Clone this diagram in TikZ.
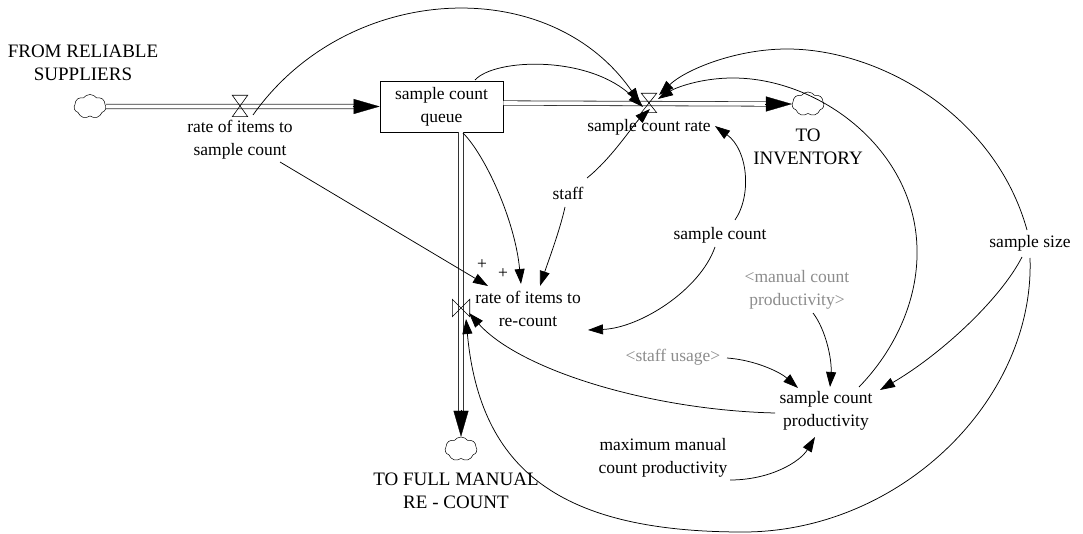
\documentclass[tikz,border=0pt]{standalone}
\usepackage{fontspec}
\setmainfont{Liberation Serif}
\usetikzlibrary{arrows.meta,calc,shapes.symbols}
\definecolor{ghost}{RGB}{140,140,140}
\begin{document}
\begin{tikzpicture}[x=1pt,y=-1pt,
  lbl/.style={align=center,inner sep=1pt,font=\fontsize{17.5}{23}\selectfont},
  caplbl/.style={align=center,inner sep=1pt,font=\fontsize{19}{23}\selectfont},
  shadowlbl/.style={lbl,text=ghost},
  stock/.style={draw,fill=white,line width=0.8pt,minimum width=123pt,minimum height=51pt,inner sep=0pt,align=center,font=\fontsize{17.5}{23}\selectfont},
  hvalve/.style={inner sep=0pt,minimum width=15pt,minimum height=19pt},
  vvalve/.style={inner sep=0pt,minimum width=17pt,minimum height=17pt},
  valveline/.style={line width=0.6pt},
  cloudy/.style={cloud,cloud puffs=7,cloud puff arc=110,aspect=1.3,draw,line width=0.5pt,inner sep=0pt,minimum width=32pt,minimum height=24pt},
  pipe/.style={double,double distance=3.6pt,line width=0.8pt,draw=black!80},
  pipetip/.style={-{Triangle[length=26pt,width=15pt]},line width=0.3pt},
  link/.style={-{Triangle[length=15pt,width=10pt]},line width=0.75pt}
]
\useasboundingbox (0,0) rectangle (1083,534);

% stock, clouds, valves
\node[stock] (queue) at (441.5,106.5) {sample count\\queue};
\node[cloudy] (cloud1) at (90,106.5) {};
\node[cloudy] (cloud2) at (808,104) {};
\node[cloudy] (cloud3) at (461,449) {};
\node[hvalve,minimum height=21pt] (v1) at (240,106) {};
\node[hvalve] (v2) at (649,103) {};
\node[vvalve] (v3) at (461,308) {};

% pipes
\draw[pipe] (cloud1.east) -- ($(queue.west)+(-25,0)$);
\draw[pipetip] ($(queue.west)+(-27,0)$) -- (queue.west);
\draw[pipe] (queue.east |- v2) -- ($(cloud2.west)+(-25,0)$);
\draw[pipetip] ($(cloud2.west)+(-27,0)$) -- (cloud2.west);
\draw[pipe] (v3 |- queue.south) -- ($(cloud3.north)+(0,-25)$);
\draw[pipetip] ($(cloud3.north)+(0,-27)$) -- (cloud3.north);

% valve symbols
\draw[valveline] (v1.north west) -- (v1.north east) -- (v1.south west) -- (v1.south east) -- cycle;
\draw[valveline] (v2.north west) -- (v2.north east) -- (v2.south west) -- (v2.south east) -- cycle;
\draw[valveline] (v3.north west) -- (v3.south west) -- (v3.north east) -- (v3.south east) -- cycle;

% labels
\node[caplbl] (src) at (83,63) {FROM RELIABLE\\SUPPLIERS};
\node[caplbl] (inv) at (808,147) {TO\\INVENTORY};
\node[caplbl] (full) at (456,491) {TO FULL MANUAL\\RE - COUNT};
\node[lbl] (r1) at (240,140) {rate of items to\\sample count};
\node[lbl] (scr) at (649,127) {sample count rate};
\node[lbl] (r2) at (528,309) {rate of items to\\re-count};
\node[lbl] (staff) at (568,193) {staff};
\node[lbl] (sc) at (720,235) {sample count};
\node[shadowlbl] (mcp) at (797,290) {<manual count\\productivity>};
\node[shadowlbl] (su) at (673,357) {<staff usage>};
\node[lbl] (scp) at (826,411) {sample count\\productivity};
\node[lbl] (ss) at (1030,243) {sample size};
\node[lbl] (mm) at (663,458) {maximum manual\\count productivity};
\node[lbl] (p1) at (482,265) {+};
\node[lbl] (p2) at (503,274) {+};

% links into sample count rate
\draw[link] ($(r1)+(13,-25)$) .. controls (347,-18) and (549,-28) .. ($(v2)+(-9,0)$);
\draw[link] ($(queue)+(33.5,-26.5)$) .. controls (495,58) and (590,55) .. ($(v2)+(-6,4)$);
\draw[link] ($(staff)+(19,-15)$) .. controls (612,158) and (633,125) .. ($(v2)+(1,6)$);
\draw[link] ($(sc)+(15,-15)$) .. controls (752,195) and (748,150) .. ($(scr)+(66,-1)$);
\draw[link] ($(scp)+(33,-24)$) .. controls (895,350) and (918,300) .. (917,250)
   .. controls (916,150) and (820,78) .. (733,78)
   .. controls (700,78) and (675,88) .. ($(v2)+(9,-4)$);
\draw[link] ($(ss)+(-3,-13)$) .. controls (995,115) and (880,49) .. (787,49)
   .. controls (735,49) and (685,70) .. ($(v2)+(10,-8)$);

% links into sample count productivity
\draw[link] ($(ss)+(-8,14)$) .. controls (1000,300) and (940,355) .. ($(scp)+(54,-21)$);
\draw[link] ($(su)+(54,1)$) .. controls (755,360) and (780,372) .. ($(scp)+(-28,-23)$);
\draw[link] ($(mcp)+(16,23)$) .. controls (826,330) and (832,360) .. ($(scp)+(4,-24)$);
\draw[link] ($(mm)+(67,22)$) .. controls (770,480) and (800,462) .. ($(scp)+(-11,26)$);

% links into rate of items to re-count
\draw[link] ($(ss)+(0,15)$) .. controls (1035,400) and (900,532) .. (743,532)
   .. controls (560,532) and (480,470) .. ($(v3)+(5,11)$);
\draw[link] ($(scp)+(-51,2)$) .. controls (650,410) and (520,370) .. ($(v3)+(8,5)$);
\draw[link] ($(sc)+(-5,12)$) .. controls (700,290) and (640,328) .. ($(r2)+(60,21)$);
\draw[link] ($(r1)+(40,22)$) -- ($(r2)+(-40,-23)$);
\draw[link] ($(queue)+(21.5,26.5)$) .. controls (485,155) and (515,220) .. ($(r2)+(-7,-25)$);
\draw[link] ($(staff)+(-3,14)$) .. controls (560,230) and (548,262) .. ($(r2)+(12,-23)$);
\end{tikzpicture}
\end{document}
